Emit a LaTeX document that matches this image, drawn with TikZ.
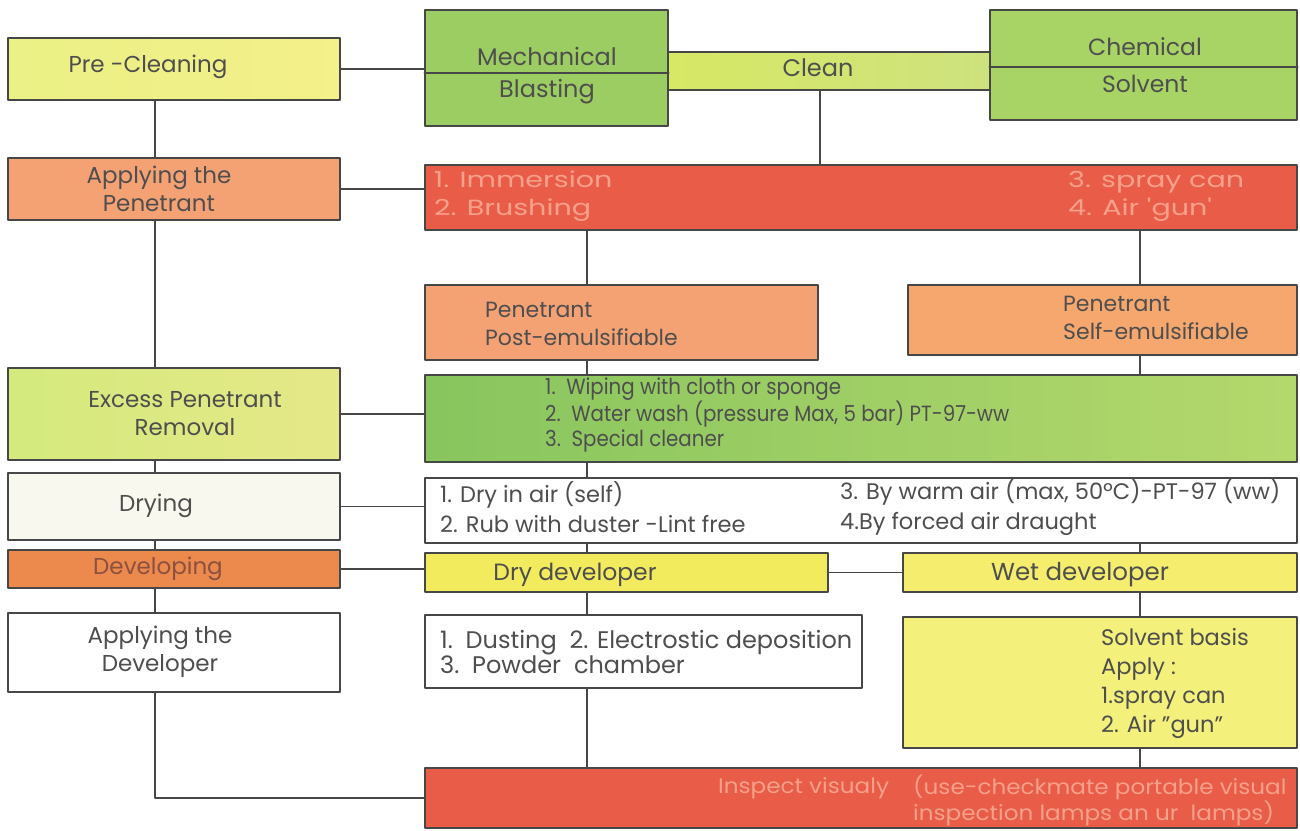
\documentclass[tikz,border=0pt]{standalone}
\usepackage{fontspec}
\setmainfont{Poppins}
\newfontfamily\widefont[FakeStretch=1.3]{Poppins}
\newfontfamily\semiwide[FakeStretch=1.1]{Poppins}
\newfontfamily\narrowfont[FakeStretch=0.9]{Poppins}
\usetikzlibrary{positioning, calc}

\definecolor{edge}{HTML}{474747}
\definecolor{ink}{HTML}{4E4E4E}
\definecolor{redink}{HTML}{F5A08A}
\definecolor{devink}{HTML}{8A5040}
\definecolor{cPre}{HTML}{F4F08A}
\definecolor{cGreen}{HTML}{9CCD62}
\definecolor{cGreenB}{HTML}{A8D466}
\definecolor{cClean}{HTML}{CDE27E}
\definecolor{cOrange}{HTML}{F4A274}
\definecolor{cRed}{HTML}{E95C47}
\definecolor{cExcess}{HTML}{E6E888}
\definecolor{cPale}{HTML}{F8F8EE}
\definecolor{cDevel}{HTML}{EC8A4E}
\definecolor{cYellow}{HTML}{F3EB5E}
\definecolor{cSolv}{HTML}{F4F07C}
\definecolor{cRemL}{HTML}{88C55E}
\definecolor{cRemR}{HTML}{B4D86C}

\begin{document}
\begin{tikzpicture}[x=1pt, y=-1pt, line join=round, line cap=round,
    box/.style 2 args={draw=edge, line width=1.5pt, minimum width=#1pt, minimum height=#2pt, inner sep=0pt},
    txt/.style={text=ink, font=\fontsize{22.5}{28}\selectfont, inner sep=0pt, align=left},
    wire/.style={draw=edge, line width=1.5pt}]
    \useasboundingbox (0,0) rectangle (1300,830);

    % left column
    \node[box={332}{62}, left color=cPre!96!green, right color=cPre] (pre) at (174,69) {};
    \node[box={332}{62}, fill=cOrange] (applypen) at (174,189) {};
    \node[box={332}{92}, left color=cExcess!92!green, right color=cExcess] (excess) at (174,414) {};
    \node[box={332}{67}, fill=cPale] (drying) at (174,506.5) {};
    \node[box={332}{38}, fill=cDevel] (developing) at (174,569) {};
    \node[box={332}{79}, fill=white] (applydev) at (174,652.5) {};

    \node[txt, font=\fontsize{23}{28}\selectfont] (pretx) at (148,67) {Pre -Cleaning};
    \node[txt, font=\fontsize{23}{28}\selectfont, align=center] (apptx) at (159,189) {Applying the\\Penetrant};
    \node[txt, font=\fontsize{23}{28}\selectfont, align=center] (extx) at (185,414) {Excess Penetrant\\Removal};
    \node[txt, font=\fontsize{23}{28}\selectfont] (drytx) at (156,506) {Drying};
    \node[txt, font=\fontsize{23}{28}\selectfont, text=devink] (devtx) at (158,569) {Developing};
    \node[txt, font=\fontsize{23}{28}\selectfont, align=center] (adtx) at (160,652) {Applying the\\Developer};

    % cleaning
    \node[box={243}{116}, fill=cGreen] (mech) at (546.5,68) {};
    \node[box={322}{38}, left color=cClean!80!yellow, right color=cClean] (clean) at (829,71) {};
    \node[box={307}{110}, fill=cGreenB] (chem) at (1143.5,65) {};
    \draw[wire] ([yshift=-5pt]mech.west) -- ([yshift=-5pt]mech.east);
    \draw[wire] ([yshift=-2pt]chem.west) -- ([yshift=-2pt]chem.east);
    \node[txt, font=\fontsize{24}{28}\selectfont] (mechA) at (547,56) {Mechanical};
    \node[txt, font=\fontsize{24}{28}\selectfont] (mechB) at (547,92) {Blasting};
    \node[txt, font=\fontsize{24}{28}\selectfont] (cleantx) at (818,68) {Clean};
    \node[txt, font=\fontsize{23.5}{28}\selectfont] (chemA) at (1145,47) {Chemical};
    \node[txt, font=\fontsize{23.5}{28}\selectfont] (chemB) at (1145,84) {Solvent};

    % penetrant
    \node[box={872}{65}, fill=cRed] (method) at (861,197.5) {};
    \node[txt, text=redink, font=\widefont\fontsize{22}{28}\selectfont, anchor=west] (m12) at (434,196) {1. Immersion\\2. Brushing};
    \node[txt, text=redink, font=\widefont\fontsize{22}{28}\selectfont, anchor=west] (m34) at (1068,196) {3. spray can\\4. Air 'gun'};
    \node[box={393}{75}, fill=cOrange] (post) at (621.5,322.5) {};
    \node[box={389}{70}, fill=cOrange!95!yellow] (self) at (1102.5,320) {};
    \node[txt, font=\fontsize{22}{28}\selectfont, anchor=west] (posttx) at (485,324) {Penetrant\\Post-emulsifiable};
    \node[txt, font=\fontsize{22}{28}\selectfont, anchor=west] (selftx) at (1063,318) {Penetrant\\Self-emulsifiable};

    % removal and drying
    \node[box={872}{87}, left color=cRemL, right color=cRemR] (remove) at (861,418.5) {};
    \node[txt, font=\narrowfont\fontsize{22}{25}\selectfont, anchor=west] (remtx) at (545,415)
        {1.~~Wiping with cloth or sponge\\2.~~Water wash (pressure Max, 5 bar) PT-97-ww\\3.~~Special cleaner};
    \node[box={872}{65}, fill=white] (drylist) at (861,510.5) {};
    \node[txt, font=\fontsize{22.5}{30}\selectfont, anchor=west] (d12) at (440,507) {1. Dry in air (self)\\2. Rub with duster -Lint free};
    \node[txt, font=\fontsize{22.5}{30}\selectfont, anchor=west] (d34) at (840,507) {3. By warm air (max, 50ºC)-PT-97 (ww)\\4.By forced air draught};

    % developer
    \node[box={403}{39}, fill=cYellow] (drydev) at (626.5,572.5) {};
    \node[box={394}{39}, fill=cYellow!90!white] (wetdev) at (1100,572.5) {};
    \node[txt, font=\fontsize{23.5}{28}\selectfont] (ddtx) at (575,575) {Dry developer};
    \node[txt, font=\fontsize{24.5}{28}\selectfont] (wdtx) at (1080,575) {Wet developer};
    \node[box={437}{73}, fill=white] (dusting) at (643.5,651.5) {};
    \node[txt, font=\fontsize{24}{25}\selectfont, anchor=west] (dustx) at (440,652)
        {1.~~Dusting~~2. Electrostic deposition\\3.~~Powder~~chamber};
    \node[box={394}{131}, fill=cSolv] (solvent) at (1100,682.5) {};
    \node[txt, font=\fontsize{22.5}{29}\selectfont, anchor=west] (soltx) at (1101,683)
        {Solvent basis\\Apply :\\1.spray can\\2. Air \char34 gun\char34};

    % inspection
    \node[box={872}{60}, fill=cRed] (inspect) at (861,798) {};
    \node[txt, text=redink, font=\semiwide\fontsize{21}{24}\selectfont, anchor=west] (i1) at (718,788) {Inspect visualy};
    \node[txt, text=redink, font=\semiwide\fontsize{21}{24}\selectfont, anchor=west] (i2) at (913,800)
        {(use-checkmate portable visual\\inspection lamps an ur~ lamps)};

    % connectors
    \coordinate (lx) at (155,0);
    \coordinate (cx) at (820,0);
    \coordinate (ax) at (587,0);
    \coordinate (bx) at (1140,0);
    \draw[wire] (pre.east) -- (pre.east -| mech.west);
    \draw[wire] (pre.south -| lx) -- (applypen.north -| lx);
    \draw[wire] (clean.south -| cx) -- (method.north -| cx);
    \draw[wire] (applypen.east) -- (applypen.east -| method.west);
    \draw[wire] (method.south -| ax) -- (post.north -| ax);
    \draw[wire] (method.south -| bx) -- (self.north -| bx);
    \draw[wire] (applypen.south -| lx) -- (excess.north -| lx);
    \draw[wire] (post.south -| ax) -- (remove.north -| ax);
    \draw[wire] (self.south -| bx) -- (remove.north -| bx);
    \draw[wire] (excess.east) -- (excess.east -| remove.west);
    \draw[wire] (excess.south -| lx) -- (drying.north -| lx);
    \draw[wire] (remove.south -| ax) -- (drylist.north -| ax);
    \draw[wire] (drying.east) -- (drying.east -| drylist.west);
    \draw[wire] (drying.south -| lx) -- (developing.north -| lx);
    \draw[wire] (drylist.south -| ax) -- (drydev.north -| ax);
    \draw[wire] (drylist.south -| bx) -- (wetdev.north -| bx);
    \draw[wire] (developing.east) -- (developing.east -| drydev.west);
    \draw[wire] (drydev.east) -- (drydev.east -| wetdev.west);
    \draw[wire] (developing.south -| lx) -- (applydev.north -| lx);
    \draw[wire] (drydev.south -| ax) -- (dusting.north -| ax);
    \draw[wire] (wetdev.south -| bx) -- (solvent.north -| bx);
    \draw[wire] (dusting.south -| ax) -- (inspect.north -| ax);
    \draw[wire] (solvent.south -| bx) -- (inspect.north -| bx);
    \draw[wire] (applydev.south -| lx) |- (inspect.west);
\end{tikzpicture}
\end{document}
